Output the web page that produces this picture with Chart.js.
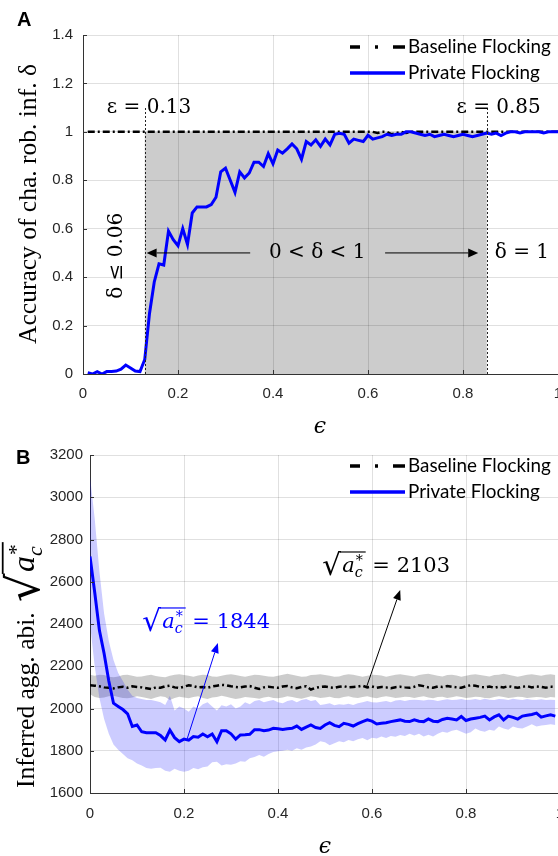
<!DOCTYPE html>
<html>
<head>
<meta charset="utf-8">
<script src="https://cdn.jsdelivr.net/npm/chart.js@4.4.1/dist/chart.umd.min.js"></script>
<style>
  html, body { margin: 0; padding: 0; background: #fff; overflow: hidden; }
  #wrap { position: relative; width: 558px; height: 856px; overflow: hidden; }
  #chartA { position: absolute; left: 0; top: 0; }
  #chartB { position: absolute; left: 0; top: 438px; }
</style>
</head>
<body>
<div id="wrap">
  <canvas id="chartA" width="558" height="440"></canvas>
  <canvas id="chartB" width="560" height="418"></canvas>
</div>
<script>
// ---- data ----
const seriesNames = ["Baseline Flocking", "Private Flocking"];
const xTicks = [0, 0.2, 0.4, 0.6, 0.8, 1];
const yTicksA = [0, 0.2, 0.4, 0.6, 0.8, 1, 1.2, 1.4];
const yTicksB = [1600, 1800, 2000, 2200, 2400, 2600, 2800, 3000, 3200];

// privacy budget grid (step 0.01)
const epsA = [];
for (let i = 1; i <= 100; i++) epsA.push(i / 100);
const epsB = [];
for (let i = 0; i < 100; i++) epsB.push(i / 100);

// panel A: accuracy of characteristic robot inference
const privA = [
  0.005, 0.000, 0.010, 0.000, 0.010, 0.010, 0.012, 0.020, 0.037, 0.025,
  0.012, 0.010, 0.060, 0.250, 0.380, 0.455, 0.450, 0.590, 0.555, 0.530,
  0.600, 0.535, 0.665, 0.690, 0.690, 0.690, 0.700, 0.730, 0.835, 0.850,
  0.800, 0.750, 0.835, 0.810, 0.830, 0.875, 0.875, 0.857, 0.910, 0.868,
  0.925, 0.912, 0.930, 0.950, 0.930, 0.887, 0.960, 0.946, 0.967, 0.940,
  0.970, 0.946, 0.990, 0.994, 0.990, 0.953, 0.970, 0.965, 0.960, 0.986,
  0.970, 0.975, 0.980, 0.990, 0.985, 0.990, 0.990, 1.000, 1.000, 0.995,
  0.990, 0.985, 0.990, 0.980, 0.985, 0.990, 0.985, 0.980, 0.985, 0.990,
  0.985, 0.980, 0.985, 0.990, 0.995, 0.990, 0.995, 0.985, 0.995, 1.000,
  1.000, 0.995, 1.000, 1.000, 1.000, 1.000, 0.995, 1.000, 1.000, 1.000
];
const baseA = [
  1, 1, 1, 1, 1, 1, 1, 1, 1, 1,
  1, 1, 1, 1, 1, 1, 1, 1, 1, 1,
  1, 1, 1, 1, 1, 1, 1, 1, 1, 1,
  1, 1, 1, 1, 1, 1, 1, 1, 1, 1,
  1, 1, 1, 1, 1, 1, 1, 1, 1, 1,
  1, 1, 1, 1, 1, 1, 1, 1, 1, 1,
  1, 0.995, 1, 1, 0.99, 0.995, 1, 0.995, 1, 1,
  1, 1, 1, 1, 1, 1, 1, 1, 1, 1,
  1, 1, 1, 1, 1, 1, 1, 1, 1, 1,
  1, 1, 1, 1, 1, 1, 1, 1, 1, 1
];
const epsLow = 0.13, epsHigh = 0.85, deltaLow = 0.06;

// panel B: inferred aggregation ability (mean and band)
const privB = [
  2720, 2550, 2370, 2260, 2130, 2025, 2010, 1995, 1975, 1915,
  1922, 1890, 1885, 1885, 1885, 1872, 1851, 1898, 1862, 1843,
  1855, 1850, 1867, 1864, 1879, 1866, 1879, 1843, 1895, 1895,
  1880, 1855, 1875, 1876, 1878, 1900, 1900, 1895, 1898, 1906,
  1904, 1901, 1904, 1906, 1917, 1901, 1912, 1922, 1910, 1906,
  1922, 1933, 1920, 1914, 1930, 1925, 1917, 1928, 1938, 1946,
  1940, 1927, 1930, 1933, 1938, 1942, 1946, 1940, 1938, 1946,
  1940, 1938, 1951, 1940, 1938, 1948, 1954, 1950, 1946, 1962,
  1943, 1950, 1954, 1958, 1964, 1946, 1960, 1970, 1946, 1964,
  1958, 1950, 1964, 1968, 1972, 1978, 1959, 1965, 1970, 1964
];
const privUpB = [
  3100, 2900, 2650, 2450, 2320, 2230, 2168, 2130, 2090, 2060,
  2050, 2045, 2040, 2040, 2035, 2030, 2017, 2060, 1990, 2010,
  2000, 1985, 2010, 2000, 2020, 2030, 2010, 1990, 2015, 2010,
  2020, 2000, 2010, 2030, 2020, 2035, 2040, 2030, 2035, 2040,
  2030, 2025, 2035, 2040, 2030, 2040, 2045, 2035, 2040, 2017,
  2020, 2025, 2015, 2020, 2018, 2022, 2017, 2025, 2030, 2035,
  2030, 2028, 2032, 2035, 2030, 2038, 2040, 2035, 2040, 2042,
  2040, 2038, 2042, 2040, 2036, 2040, 2044, 2040, 2042, 2045,
  2040, 2042, 2045, 2040, 2046, 2042, 2040, 2045, 2044, 2040,
  2046, 2043, 2040, 2045, 2042, 2040, 2044, 2040, 2042, 2040
];
const privLoB = [
  2400, 2200, 2050, 1950, 1880, 1830, 1805, 1785, 1765, 1755,
  1740, 1730, 1718, 1715, 1718, 1720, 1705, 1701, 1715, 1705,
  1701, 1705, 1718, 1712, 1722, 1725, 1745, 1748, 1730, 1736,
  1734, 1740, 1750, 1748, 1764, 1770, 1780, 1772, 1785, 1794,
  1798, 1800, 1805, 1800, 1812, 1805, 1815, 1820, 1830, 1845,
  1840, 1826, 1835, 1845, 1840, 1851, 1845, 1855, 1860, 1850,
  1862, 1858, 1867, 1860, 1870, 1866, 1875, 1870, 1880, 1872,
  1880, 1868, 1876, 1867, 1880, 1890, 1885, 1895, 1900, 1890,
  1880, 1888, 1905, 1895, 1890, 1900, 1895, 1915, 1905, 1900,
  1915, 1908, 1905, 1915, 1925, 1915, 1920, 1922, 1925, 1922
];
const baseB = [
  2110, 2108, 2105, 2100, 2098, 2095, 2100, 2103, 2098, 2105,
  2102, 2100, 2096, 2092, 2100, 2098, 2105, 2108, 2100, 2097,
  2103, 2110, 2106, 2100, 2102, 2098, 2104, 2108, 2112, 2110,
  2105, 2102, 2100, 2104, 2106, 2098, 2092, 2100, 2103, 2100,
  2098, 2104, 2106, 2100, 2096, 2102, 2105, 2090, 2098, 2102,
  2104, 2100, 2098, 2103, 2106, 2100, 2102, 2104, 2108, 2100,
  2104, 2098, 2102, 2100, 2096, 2101, 2103, 2100, 2098, 2103,
  2110, 2106, 2100, 2098, 2104, 2102, 2106, 2103, 2100, 2098,
  2105, 2110, 2108, 2102, 2100, 2104, 2098, 2103, 2100, 2106,
  2101, 2098, 2103, 2106, 2100, 2104, 2102, 2098, 2103, 2102
];
const baseUpB = [
  2160, 2155, 2160, 2158, 2150, 2148, 2152, 2158, 2160, 2155,
  2150, 2152, 2156, 2160, 2154, 2150, 2148, 2155, 2160, 2162,
  2158, 2155, 2150, 2156, 2160, 2158, 2152, 2150, 2155, 2160,
  2162, 2158, 2154, 2150, 2155, 2160, 2158, 2155, 2152, 2150,
  2155, 2160, 2164, 2160, 2155, 2150, 2152, 2158, 2160, 2162,
  2158, 2155, 2150, 2152, 2158, 2162, 2160, 2155, 2150, 2155,
  2160, 2158, 2156, 2150, 2155, 2160, 2162, 2158, 2155, 2152,
  2158, 2162, 2165, 2160, 2155, 2152, 2158, 2160, 2156, 2150,
  2155, 2160, 2162, 2158, 2155, 2152, 2158, 2160, 2164, 2160,
  2155, 2150, 2155, 2160, 2162, 2158, 2155, 2160, 2162, 2158
];
const baseLoB = [
  2068, 2055, 2050, 2052, 2058, 2060, 2055, 2050, 2048, 2052,
  2058, 2055, 2050, 2045, 2052, 2058, 2055, 2040, 2050, 2056,
  2052, 2048, 2055, 2058, 2050, 2045, 2052, 2055, 2060, 2056,
  2050, 2045, 2048, 2055, 2052, 2050, 2046, 2052, 2056, 2050,
  2048, 2052, 2058, 2055, 2050, 2046, 2052, 2058, 2055, 2050,
  2052, 2056, 2050, 2048, 2054, 2058, 2052, 2050, 2055, 2058,
  2052, 2048, 2054, 2058, 2055, 2050, 2052, 2056, 2054, 2050,
  2055, 2058, 2052, 2048, 2054, 2056, 2050, 2053, 2058, 2055,
  2050, 2052, 2056, 2054, 2050, 2048, 2054, 2058, 2055, 2050,
  2052, 2056, 2054, 2050, 2052, 2055, 2053, 2050, 2054, 2052
];
const aBase = 2103, aPriv = 1844;

// ---- helpers ----
const tickFont = { family: "Liberation Sans", size: 15 };
const gridColor = "rgba(0,0,0,0.12)";

function pts(xs, ys) {
    return xs.map((v, i) => ({ x: v, y: ys[i] }));
}

function text(ctx, str, x, y, font, color, align, baseline) {
    ctx.save();
    ctx.font = font;
    ctx.fillStyle = color;
    ctx.textAlign = align || "left";
    ctx.textBaseline = baseline || "alphabetic";
    ctx.fillText(str, x, y);
    ctx.restore();
}

function arrow(ctx, x1, y1, x2, y2, color, head, half) {
    const ang = Math.atan2(y2 - y1, x2 - x1);
    ctx.save();
    ctx.strokeStyle = color;
    ctx.fillStyle = color;
    ctx.lineWidth = 1;
    ctx.beginPath();
    ctx.moveTo(x1, y1);
    ctx.lineTo(x2 - head * Math.cos(ang), y2 - head * Math.sin(ang));
    ctx.stroke();
    ctx.translate(x2, y2);
    ctx.rotate(ang);
    ctx.beginPath();
    ctx.moveTo(0, 0);
    ctx.lineTo(-head, -half);
    ctx.lineTo(-head, half);
    ctx.closePath();
    ctx.fill();
    ctx.restore();
}

// sqrt(a_c^*) written as text glyphs plus an overbar, returns its width
function sqrtExpr(ctx, x, y, size, color, fam, draw) {
    ctx.save();
    ctx.fillStyle = color;
    ctx.strokeStyle = color;
    ctx.textAlign = "left";
    ctx.textBaseline = "alphabetic";
    ctx.font = `${size * 1.4}px "DejaVu Serif"`;
    const r = ctx.measureText("√");
    const ry = y + size * 0.16;
    const top = ry - r.actualBoundingBoxAscent;
    const rRight = x + r.actualBoundingBoxRight;
    if (draw) ctx.fillText("√", x, ry);
    let cx = rRight + 1;
    ctx.font = `italic ${size}px ${fam}`;
    if (draw) ctx.fillText("a", cx, y);
    cx += ctx.measureText("a").width;
    ctx.font = `italic ${size * 0.68}px ${fam}`;
    if (draw) ctx.fillText("c", cx, y + size * 0.25);
    const wc = ctx.measureText("c").width;
    ctx.font = `${size * 0.68}px ${fam}`;
    if (draw) ctx.fillText("*", cx + 1, y - size * 0.34);
    cx += Math.max(wc, ctx.measureText("*").width) + 3;
    if (draw) {
        ctx.lineWidth = Math.max(1, size / 18);
        ctx.beginPath();
        ctx.moveTo(rRight - 1, top + 0.6);
        ctx.lineTo(cx, top + 0.6);
        ctx.stroke();
    }
    ctx.restore();
    return cx - x;
}

function fitSize(ctx, str, family, width) {
    ctx.save();
    ctx.font = `100px ${family}`;
    const w = ctx.measureText(str).width;
    ctx.restore();
    return 100 * width / w;
}

// MATLAB style ticks pointing into the axes
function inTicks(chart, len) {
    const { ctx, chartArea: a, scales: { x, y } } = chart;
    ctx.save();
    ctx.strokeStyle = "#333";
    ctx.lineWidth = 1;
    ctx.beginPath();
    x.ticks.forEach(t => {
        const px = Math.round(x.getPixelForValue(t.value)) + 0.5;
        ctx.moveTo(px, a.bottom);
        ctx.lineTo(px, a.bottom - len);
    });
    y.ticks.forEach(t => {
        const py = Math.round(y.getPixelForValue(t.value)) + 0.5;
        ctx.moveTo(a.left, py);
        ctx.lineTo(a.left + len, py);
    });
    ctx.stroke();
    ctx.restore();
}

function legend(ctx, y1, y2) {
    const size = fitSize(ctx, seriesNames[0], "Lato", 143);
    ctx.save();
    ctx.lineWidth = 3.5;
    ctx.strokeStyle = "#000";
    ctx.setLineDash([10, 15, 3, 15, 12, 20]);
    ctx.beginPath(); ctx.moveTo(350, y1); ctx.lineTo(405, y1); ctx.stroke();
    ctx.setLineDash([]);
    ctx.strokeStyle = "#0000ff";
    ctx.beginPath(); ctx.moveTo(350, y2); ctx.lineTo(405, y2); ctx.stroke();
    ctx.restore();
    text(ctx, seriesNames[0], 408, y1, `${size}px Lato`, "#000", "left", "middle");
    text(ctx, seriesNames[1], 408, y2, `${size}px Lato`, "#000", "left", "middle");
}

function scaleOpts(ticksArr, min, max, fit, pad) {
    return {
        type: "linear",
        min: min,
        max: max,
        afterBuildTicks: s => { s.ticks = ticksArr.map(v => ({ value: v })); },
        afterFit: s => {
            fit(s);
            // keep the plot box fixed: the last label is allowed to be cut
            s.paddingLeft = 0; s.paddingRight = 0;
            s.paddingTop = 0; s.paddingBottom = 0;
        },
        grid: { color: gridColor, drawTicks: false },
        border: { color: "#333", width: 1 },
        ticks: { padding: pad, font: tickFont, color: "#262626", autoSkip: false, maxRotation: 0, callback: v => String(v) }
    };
}

// ---- panel A ----
const panelA = {
    id: "panelA",
    beforeDraw(chart) {
        // grey band between the two epsilon bounds, under the grid
        const { ctx, scales: { x, y } } = chart;
        const x0 = x.getPixelForValue(epsLow), x1 = x.getPixelForValue(epsHigh);
        const y0 = y.getPixelForValue(0), y1 = y.getPixelForValue(1);
        ctx.save();
        ctx.fillStyle = "#cccccc";
        ctx.fillRect(x0, y1, x1 - x0, y0 - y1);
        ctx.restore();
    },
    afterDraw(chart) {
        const { ctx, scales: { x, y } } = chart;
        inTicks(chart, 4);

        ctx.save();
        ctx.strokeStyle = "#222";
        ctx.lineWidth = 1;
        ctx.setLineDash([2, 2]);
        [epsLow, epsHigh].forEach(e => {
            const px = Math.round(x.getPixelForValue(e)) + 0.5;
            ctx.beginPath();
            ctx.moveTo(px, y.getPixelForValue(0));
            ctx.lineTo(px, y.getPixelForValue(1.1));
            ctx.stroke();
        });
        ctx.restore();

        const serif = '20px "DejaVu Serif"';
        text(ctx, "ε = " + epsLow, x.getPixelForValue(0.139), y.getPixelForValue(1.078), serif, "#000", "center");
        text(ctx, "ε = " + epsHigh, x.getPixelForValue(0.875), y.getPixelForValue(1.078), serif, "#000", "center");
        text(ctx, "0 < δ < 1", x.getPixelForValue(0.493), y.getPixelForValue(0.5), serif, "#000", "center", "middle");
        text(ctx, "δ = 1", x.getPixelForValue(0.924), y.getPixelForValue(0.5), serif, "#000", "center", "middle");

        ctx.save();
        ctx.translate(x.getPixelForValue(0.072), y.getPixelForValue(0.488));
        ctx.rotate(-Math.PI / 2);
        text(ctx, "δ ≤ " + deltaLow.toFixed(2), 0, 0, serif, "#000", "center", "middle");
        ctx.restore();

        const ya = y.getPixelForValue(0.5);
        arrow(ctx, x.getPixelForValue(0.352), ya, x.getPixelForValue(0.134), ya, "#000", 10, 4.5);
        arrow(ctx, x.getPixelForValue(0.636), ya, x.getPixelForValue(0.832), ya, "#000", 10, 4.5);

        legend(ctx, 47, 73);

        // axis titles
        const ttl = "Accuracy of cha. rob. inf. δ";
        const ts = fitSize(ctx, ttl, '"Liberation Serif"', 280);
        ctx.save();
        ctx.translate(36, 204);
        ctx.rotate(-Math.PI / 2);
        text(ctx, ttl, 0, 0, `${ts}px "Liberation Serif"`, "#000", "center");
        ctx.restore();
        text(ctx, "ϵ", 320, 427, 'italic 22px "DejaVu Serif"', "#000", "center", "middle");
        text(ctx, "A", 17, 20, 'bold 20px "Liberation Sans"', "#000", "left", "middle");
    }
};

new Chart(document.getElementById("chartA"), {
    type: "line",
    data: {
        datasets: [
            {
                label: seriesNames[1],
                data: pts(epsA, privA),
                borderColor: "#0000ff",
                borderWidth: 3,
                pointRadius: 0,
                order: 1
            },
            {
                label: seriesNames[0],
                data: pts(epsA, baseA),
                borderColor: "#000000",
                borderWidth: 2.5,
                borderDash: [7, 3, 2, 3],
                pointRadius: 0,
                order: 2
            }
        ]
    },
    options: {
        responsive: false,
        animation: false,
        devicePixelRatio: 1,
        layout: { padding: { top: 35, right: 0, bottom: 0, left: 0 }, autoPadding: false },
        plugins: { legend: { display: false }, tooltip: { enabled: false } },
        scales: {
            x: scaleOpts(xTicks, 0, 1, s => { s.height = 66; }, 11),
            y: scaleOpts(yTicksA, 0, 1.4, s => { s.width = 83; }, 10)
        }
    },
    plugins: [panelA]
});

// ---- panel B ----
const panelB = {
    id: "panelB",
    afterDraw(chart) {
        const { ctx, scales: { x, y } } = chart;
        inTicks(chart, 4);
        legend(ctx, 28, 54);

        // value call-outs
        const fam = '"DejaVu Serif"';
        let lx = x.getPixelForValue(0.494), ly = y.getPixelForValue(2646);
        let w = sqrtExpr(ctx, lx, ly, 21, "#000", fam, true);
        text(ctx, " = " + aBase, lx + w, ly, `21px ${fam}`, "#000");
        arrow(ctx, x.getPixelForValue(0.589), y.getPixelForValue(2106),
              x.getPixelForValue(0.66), y.getPixelForValue(2561), "#000", 10, 4);

        lx = x.getPixelForValue(0.111); ly = y.getPixelForValue(2381);
        w = sqrtExpr(ctx, lx, ly, 21, "#0000ff", fam, true);
        text(ctx, " = " + aPriv, lx + w, ly, `21px ${fam}`, "#0000ff");
        arrow(ctx, x.getPixelForValue(0.206), y.getPixelForValue(1851),
              x.getPixelForValue(0.272), y.getPixelForValue(2310), "#0000ff", 10, 4);

        // y title with the radical, written upward from the bottom
        const ttl = "Inferred agg. abi. ";
        const tfam = '"Liberation Serif"';
        const ts = fitSize(ctx, "Accuracy of cha. rob. inf. δ", tfam, 280);
        ctx.save();
        ctx.font = `${ts}px ${tfam}`;
        const w1 = ctx.measureText(ttl).width;
        ctx.translate(34, 350);
        ctx.rotate(-Math.PI / 2);
        text(ctx, ttl, 0, 0, `${ts}px ${tfam}`, "#000");
        sqrtExpr(ctx, w1 + 4, 0, ts * 1.25, "#000", tfam, true);
        ctx.restore();

        text(ctx, "ϵ", 325, 409, 'italic 22px "DejaVu Serif"', "#000", "center", "middle");
        text(ctx, "B", 16, 20, 'bold 20px "Liberation Sans"', "#000", "left", "middle");
    }
};

new Chart(document.getElementById("chartB"), {
    type: "line",
    data: {
        datasets: [
            { label: seriesNames[1], data: pts(epsB, privB), borderColor: "#0000ff", borderWidth: 3, pointRadius: 0, order: 1 },
            { label: seriesNames[0], data: pts(epsB, baseB), borderColor: "#000000", borderWidth: 2.5, borderDash: [6, 3, 2, 3], pointRadius: 0, order: 2 },
            { label: "private band", data: pts(epsB, privUpB), borderWidth: 0, pointRadius: 0, fill: "+1", backgroundColor: "rgba(0,0,255,0.2)", order: 3 },
            { label: "private band low", data: pts(epsB, privLoB), borderWidth: 0, pointRadius: 0, fill: false, order: 4 },
            { label: "baseline band", data: pts(epsB, baseUpB), borderWidth: 0, pointRadius: 0, fill: "+1", backgroundColor: "rgba(0,0,0,0.2)", order: 5 },
            { label: "baseline band low", data: pts(epsB, baseLoB), borderWidth: 0, pointRadius: 0, fill: false, order: 6 }
        ]
    },
    options: {
        responsive: false,
        animation: false,
        devicePixelRatio: 1,
        layout: { padding: { top: 17, right: 0, bottom: 0, left: 0 }, autoPadding: false },
        plugins: { legend: { display: false }, tooltip: { enabled: false } },
        scales: {
            x: scaleOpts(xTicks, 0, 1, s => { s.height = 63; }, 12),
            y: scaleOpts(yTicksB, 1600, 3200, s => { s.width = 90; }, 7)
        }
    },
    plugins: [panelB]
});
</script>
</body>
</html>
